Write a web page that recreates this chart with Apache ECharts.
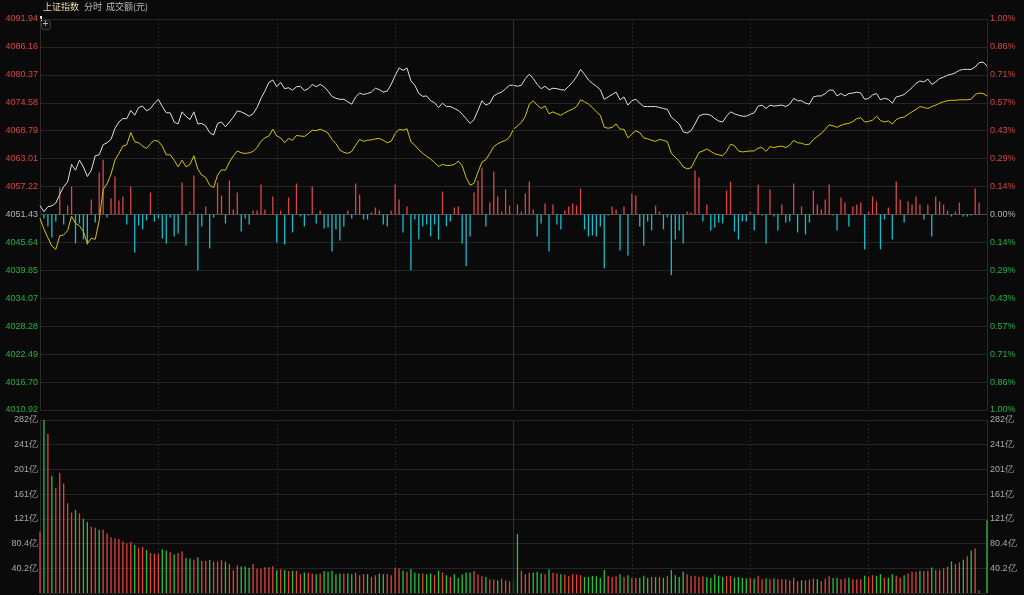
<!DOCTYPE html>
<html><head><meta charset="utf-8">
<script src="https://cdn.jsdelivr.net/npm/echarts@6/dist/echarts.min.js"></script>
<style>html,body{margin:0;padding:0;background:#0a0a0a;}#c{width:1024px;height:595px;}</style>
</head><body><div id="c"></div>
<script>
// ---------------- data ----------------
const prevClose = 4051.43;
const priceLabels = ['4010.92','4016.70','4022.49','4028.28','4034.07','4039.85','4045.64','4051.43','4057.22','4063.01','4068.79','4074.58','4080.37','4086.16','4091.94'];
const pctLabels = ['1.00%','0.86%','0.71%','0.57%','0.43%','0.29%','0.14%','0.00%','0.14%','0.29%','0.43%','0.57%','0.71%','0.86%','1.00%'];
const volLabels = ['','40.2亿','80.4亿','121亿','161亿','201亿','241亿','282亿'];
const volStep = 40.22;

const categories = [];
(function(){
  const f = m => String(Math.floor(m/60)).padStart(2,'0') + ':' + String(m%60).padStart(2,'0');
  for (let m = 9*60+30; m <= 11*60+30; m++) categories.push(f(m));
  for (let m = 13*60+1; m <= 15*60; m++) categories.push(f(m));
})();

const indexPrice = [
4053.29,4052.0,4053.07,4053.2,4053.8,4055.6,4057.2,4058.2,4061.8,4060.6,
4062.7,4061.3,4059.3,4060.6,4063.6,4063.8,4065.9,4066.3,4067.0,4069.3,
4070.6,4071.3,4071.3,4073.0,4072.0,4073.6,4073.9,4072.9,4073.4,4074.5,
4075.3,4073.8,4072.5,4072.5,4070.6,4070.2,4072.7,4071.8,4071.1,4072.7,
4070.2,4070.3,4069.8,4068.4,4067.9,4070.3,4070.6,4069.6,4070.6,4071.6,
4072.9,4072.7,4072.3,4071.8,4072.3,4073.6,4075.5,4077.0,4078.8,4079.3,
4077.9,4078.8,4077.5,4077.7,4077.2,4077.9,4078.0,4077.1,4077.5,4078.4,
4077.9,4078.4,4077.9,4077.0,4075.9,4075.5,4075.3,4075.3,4074.8,4074.3,
4075.8,4076.6,4076.3,4076.5,4076.8,4077.6,4077.3,4076.8,4077.0,4078.4,
4080.2,4081.8,4081.3,4081.8,4079.1,4078.2,4076.5,4075.9,4076.0,4075.0,
4074.6,4073.6,4074.5,4073.8,4073.8,4073.4,4073.0,4072.2,4071.3,4070.3,
4071.1,4073.0,4075.0,4074.1,4074.5,4076.0,4076.5,4076.8,4077.5,4078.2,
4078.2,4078.0,4078.2,4079.6,4080.5,4079.6,4078.4,4077.5,4078.0,4077.3,
4077.6,4077.5,4077.3,4077.2,4078.0,4078.9,4080.0,4081.5,4080.5,4079.3,
4078.6,4078.0,4077.3,4075.3,4075.8,4076.3,4076.8,4075.2,4075.8,4074.1,
4075.0,4075.3,4074.5,4073.8,4073.8,4073.8,4073.8,4073.6,4073.4,4073.2,
4071.6,4070.9,4070.2,4068.6,4068.3,4068.8,4070.2,4071.8,4072.2,4072.2,
4072.0,4071.3,4070.8,4070.6,4071.8,4072.7,4072.3,4072.0,4071.8,4071.8,
4072.2,4072.5,4073.9,4074.1,4073.4,4074.1,4073.9,4074.0,4074.1,4073.8,
4074.3,4075.5,4075.0,4075.0,4074.5,4074.3,4075.8,4076.0,4076.0,4076.5,
4077.2,4077.2,4076.0,4076.5,4076.0,4076.5,4076.6,4076.8,4076.6,4075.3,
4075.5,4076.2,4076.5,4075.2,4075.5,4075.3,4074.5,4075.8,4076.0,4076.3,
4077.0,4077.7,4078.6,4079.1,4078.9,4079.5,4078.4,4078.9,4079.6,4079.9,
4080.3,4080.5,4080.8,4081.3,4081.5,4081.5,4081.5,4082.0,4082.9,4083.0,
4082.2];

const leadLine = [
4050.6,4048.4,4046.6,4044.9,4044.2,4047.0,4047.2,4048.1,4051.1,4049.6,
4049.1,4047.9,4045.4,4046.5,4046.3,4050.2,4056.6,4057.8,4059.8,4062.7,
4064.1,4065.6,4065.9,4068.4,4066.5,4066.3,4065.6,4065.1,4066.1,4066.8,
4066.6,4065.6,4063.8,4063.8,4062.7,4061.3,4062.7,4061.3,4061.8,4063.6,
4060.8,4059.6,4059.1,4057.5,4057.0,4059.6,4060.7,4060.6,4062.3,4063.6,
4064.6,4064.2,4064.1,4064.2,4064.5,4065.3,4066.6,4067.3,4067.7,4069.1,
4067.7,4067.3,4066.3,4067.2,4066.8,4067.8,4067.7,4067.6,4068.2,4068.9,
4068.8,4069.1,4068.8,4068.3,4067.0,4066.1,4064.8,4064.3,4064.1,4064.5,
4065.8,4067.0,4066.6,4066.8,4066.9,4067.1,4067.2,4066.8,4066.3,4066.6,
4068.2,4069.1,4068.9,4069.2,4066.5,4065.8,4064.8,4064.1,4063.5,4062.9,
4062.2,4061.4,4061.8,4061.6,4061.6,4061.8,4062.5,4061.5,4059.1,4057.5,
4057.9,4060.2,4062.3,4062.8,4064.1,4065.5,4066.1,4066.5,4066.8,4067.5,
4069.1,4069.8,4070.5,4071.8,4074.3,4075.0,4074.1,4073.4,4073.9,4072.3,
4072.7,4072.3,4072.0,4072.5,4072.9,4073.3,4073.8,4075.2,4074.8,4074.3,
4073.6,4072.7,4072.0,4069.5,4069.3,4069.5,4070.2,4069.1,4069.1,4067.3,
4068.1,4068.8,4068.4,4067.3,4067.1,4066.8,4066.6,4067.0,4066.8,4066.5,
4064.1,4063.3,4062.5,4061.3,4060.9,4061.1,4062.7,4064.3,4064.6,4065.0,
4064.5,4064.0,4063.8,4063.6,4064.5,4066.0,4065.7,4064.6,4064.4,4064.5,
4064.6,4064.6,4065.2,4065.3,4064.5,4065.5,4065.3,4065.5,4065.6,4065.3,
4065.8,4066.8,4066.3,4066.2,4065.9,4066.0,4067.0,4067.6,4068.2,4069.1,
4070.0,4069.8,4069.5,4069.9,4070.2,4070.3,4070.7,4071.3,4071.5,4070.6,
4070.7,4071.0,4071.8,4070.9,4070.6,4070.8,4070.2,4071.1,4071.5,4071.6,
4072.2,4072.7,4073.2,4073.8,4073.6,4073.4,4073.8,4074.1,4074.5,4074.8,
4075.0,4075.1,4075.1,4075.2,4075.2,4075.2,4075.3,4076.3,4076.6,4076.5,
4076.0];

const breadthBars = [
0,-4,-12,-23,-7,27,-10,9,28,-29,
-9,-25,-30,15,-8,42,55,-3,16,38,
14,18,-10,28,-38,-11,-15,-6,22,-7,
-4,-24,-29,-3,-22,-19,32,-31,3,39,
-56,-12,8,-34,-3,32,19,-9,34,5,
22,-17,-4,-10,4,4,30,5,0,18,
-28,4,-30,17,-18,31,-2,-12,-1,28,
-9,4,-14,-13,-37,-15,-26,-12,4,-4,
31,20,-5,-5,2,7,4,-10,-12,4,
30,15,-18,8,-56,-5,-25,-12,-10,-22,
-10,-25,23,-12,-7,7,8,-29,-52,-22,
22,34,47,-12,12,43,18,3,25,9,
0,10,3,21,33,5,-22,-9,11,-37,
10,-10,-15,4,8,11,9,26,-15,-22,
-21,-22,-12,-54,-1,8,5,-36,8,-41,
21,19,-12,-31,-7,-16,9,3,-15,-3,
-61,-25,-16,-29,3,2,44,37,-7,10,
-16,-13,-8,-9,24,33,-17,-25,-7,-7,
3,-16,30,-1,-29,25,-2,-16,10,-8,
-7,31,-18,8,-20,-8,24,10,5,15,
30,-1,-16,17,12,-12,8,10,12,-35,
3,18,13,-35,-5,7,-25,33,15,-8,
13,10,18,10,-5,10,-22,18,13,10,
4,-2,3,12,-2,-2,-1,26,12,0,
0];

const turnover = [ // 亿元
100,281.5,259,191,171,195.5,178,146,131,135,
129.6,121,115.6,108,106,103,103,97,90.5,89,
87.7,84,80.4,83,78,73.7,75,70,65,64,
63.7,71,69,66.5,62.5,65,68,57,56,54,
58,52.5,52.5,54,51,51,53.6,51,47,37,
44.7,43,43,41,47,40,40,42,42,43.6,
37,38.5,37.4,35.7,36.3,36.3,30.7,33.5,33,31.8,
30.7,31.8,35.7,34.6,36.3,30.7,31.8,31.8,31.8,30.7,
33,29,30.7,30.7,26,29,31.8,30.7,30.7,29,
41.3,40,36.3,34.6,39,33,31.8,31.8,30.7,31.8,
29,36.3,33,29,26,30.7,24.6,30,33.5,33.5,
35.7,30,27.4,26,21.8,21.8,20.7,23.5,20.7,19,
22.3,96,36.3,30.7,33,33,34.6,31.8,30.7,38.5,
33,31.8,30.7,30,27.4,30.7,30,29,26,26,
28,27.4,24.6,37.4,28,26,27.4,30.7,26,29,
24.6,24.6,25,28,24.6,26,26,26,24.6,27.4,
37.4,29,26,34.6,30.7,27.4,28,26,27.4,26,
24.6,30,28,26,28,28,25,26,24.6,23.5,
24.6,23.5,28,22.3,23.5,22.3,23.5,22.3,22.3,22.3,
20.7,25,19.5,20.7,20.7,21.8,23.5,22.3,19.5,23.5,
27.4,24.6,25,22.3,23.5,25,22.3,22.3,22.3,28,
26,29,28,30.7,24.6,25,30.7,28,25,29,
31.8,34.6,34.6,36.3,35.7,36.3,41.3,37.4,37.4,40.2,
43,51.4,47,49.7,54,59.8,69,72.6,4,0,
118.4];

// r = up minute (red), g = down minute (green)
const turnoverDir = (
'rgrgrrrrrg'+'rggrrgrrrr'+'rrrrgrrgrr'+'rggrgrrggr'+'grrgrrrgrr'+
'rgggrrrrrr'+'grgrgrrgrr'+'grgggggrgg'+'rrrgrrggrr'+'rrgrgggrgg'+
'rgrgrggggg'+'rrrgrrgrrr'+'ggrrrgggrg'+'rrgrrrrrgg'+'ggggrrrgrg'+
'rrgggrgrgr'+'ggggrrrrrg'+'ggggrrgggg'+'rgrrgrgrrr'+'rrrgrrrgrr'+
'rggrrgrrrg'+'rrggrggrrg'+'rrrgrrgrrr'+'rgrrgrgrrr'+'g').split('');

// ---------------- chart ----------------
const stepPts = prevClose * 0.01 / 7;
const toStep = p => (p - prevClose) / stepPts;

const RED = '#dc4440', GREEN = '#22b246', GRAY = '#b4b4b4';
const lblFont = {fontSize: 9, fontFamily: 'Arial, "Liberation Sans", sans-serif'};
const rich = {
  u: Object.assign({color: RED}, lblFont),
  d: Object.assign({color: GREEN}, lblFont),
  z: Object.assign({color: GRAY}, lblFont)
};
function tagged(v, txt){
  if (v > 0.01) return '{u|' + txt + '}';
  if (v < -0.01) return '{d|' + txt + '}';
  return '{z|' + txt + '}';
}
const splitColors = [];
for (let k = 0; k < 15; k++) splitColors.push(k === 7 ? '#4a4a4a' : '#242424');

const vSplit = {
  show: true,
  interval: (idx) => idx % 30 === 0 && idx !== 0 && idx !== 240 && idx !== 120,
  lineStyle: {color: '#252525', type: [2, 2], width: 1}
};

const chart = echarts.init(document.getElementById('c'), null, {renderer: 'canvas'});
chart.setOption({
  backgroundColor: '#0a0a0a',
  animation: false,
  grid: [
    {left: 40, right: 37, top: 19, height: 391, outerBoundsMode: 'none', containLabel: false},
    {left: 40, right: 37, top: 420, height: 173, outerBoundsMode: 'none', containLabel: false}
  ],
  xAxis: [
    {type: 'category', gridIndex: 0, data: categories, boundaryGap: false,
     axisLine: {show: false}, axisTick: {show: false}, axisLabel: {show: false}, splitLine: vSplit},
    {type: 'category', gridIndex: 1, data: categories, boundaryGap: false,
     axisLine: {show: false}, axisTick: {show: false}, axisLabel: {show: false}, splitLine: vSplit}
  ],
  yAxis: [
    {type: 'value', gridIndex: 0, position: 'left', min: -7, max: 7, interval: 1,
     axisLine: {show: true, lineStyle: {color: '#2c2c2c'}}, axisTick: {show: false},
     axisLabel: {margin: 2, rich: rich, formatter: v => tagged(v, priceLabels[Math.round(v) + 7])},
     splitLine: {show: true, lineStyle: {color: splitColors, width: 1}}},
    {type: 'value', gridIndex: 0, position: 'right', min: -7, max: 7, interval: 1,
     axisLine: {show: true, lineStyle: {color: '#2c2c2c'}}, axisTick: {show: false},
     axisLabel: {margin: 3, rich: rich, formatter: v => tagged(v, pctLabels[Math.round(v) + 7])},
     splitLine: {show: false}},
    {type: 'value', gridIndex: 0, min: -196, max: 196, show: false, splitLine: {show: false}},
    {type: 'value', gridIndex: 1, position: 'left', min: 0, max: volStep * 7, interval: volStep,
     axisLine: {show: true, lineStyle: {color: '#2c2c2c'}}, axisTick: {show: false},
     axisLabel: Object.assign({margin: 2, color: '#a9a9a9', formatter: v => volLabels[Math.round(v / volStep)]}, lblFont),
     splitLine: {show: true, lineStyle: {color: '#242424', width: 1}}},
    {type: 'value', gridIndex: 1, position: 'right', min: 0, max: volStep * 7, interval: volStep,
     axisLine: {show: true, lineStyle: {color: '#2c2c2c'}}, axisTick: {show: false},
     axisLabel: Object.assign({margin: 3, color: '#a9a9a9', formatter: v => volLabels[Math.round(v / volStep)]}, lblFont),
     splitLine: {show: false}}
  ],
  series: [
    {name: 'breadth', type: 'bar', xAxisIndex: 0, yAxisIndex: 2, barWidth: 1.3, z: 1,
     data: breadthBars,
     itemStyle: {borderWidth: 0, color: p => p.value >= 0 ? '#d9474a' : '#17bccb'}},
    {name: '上证指数', type: 'line', xAxisIndex: 0, yAxisIndex: 0, z: 4,
     data: indexPrice.map(toStep), showSymbol: false, symbol: 'none',
     lineStyle: {color: '#dedede', width: 1},
     markLine: {silent: true, symbol: 'none', label: {show: false},
       lineStyle: {color: '#2e2e2e', type: 'solid', width: 1},
       data: [{xAxis: '11:30'}]}},
    {name: 'lead', type: 'line', xAxisIndex: 0, yAxisIndex: 0, z: 3,
     data: leadLine.map(toStep), showSymbol: false, symbol: 'none',
     lineStyle: {color: '#d4c600', width: 1}},
    {name: '成交额', type: 'bar', xAxisIndex: 1, yAxisIndex: 3, barWidth: 1.3, z: 2,
     data: turnover,
     itemStyle: {borderWidth: 0, color: p => turnoverDir[p.dataIndex] === 'r' ? '#e0443f' : '#27c043'},
     markLine: {silent: true, symbol: 'none', label: {show: false},
       lineStyle: {color: '#2e2e2e', type: 'solid', width: 1},
       data: [{xAxis: '11:30'}]}}
  ],
  graphic: [
    {type: 'text', left: 43, top: 2, style: {text: '上证指数', fill: '#e6dba6', font: '9px "Noto Sans CJK SC", sans-serif'}},
    {type: 'text', left: 84, top: 2, style: {text: '分时', fill: '#bdbdbd', font: '9px "Noto Sans CJK SC", sans-serif'}},
    {type: 'text', left: 106, top: 2, style: {text: '成交额(元)', fill: '#bdbdbd', font: '9px "Noto Sans CJK SC", sans-serif'}},
    {type: 'rect', left: 40, top: 16, shape: {width: 2, height: 5}, style: {fill: '#e8e8e8'}},
    {type: 'rect', left: 41, top: 20, shape: {width: 9, height: 9, r: 2}, style: {fill: '#141414', stroke: '#3a3a3a', lineWidth: 1}},
    {type: 'text', left: 42.5, top: 19, style: {text: '+', fill: '#bbbbbb', font: '10px Arial, sans-serif'}}
  ]
});
</script>
</body></html>
